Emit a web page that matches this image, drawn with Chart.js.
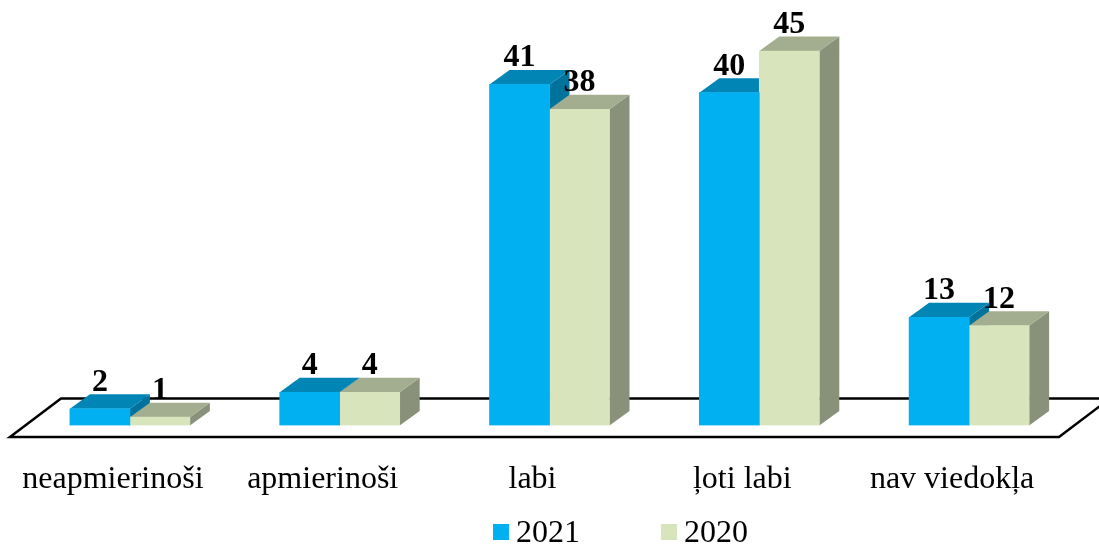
<!DOCTYPE html>
<html>
<head>
<meta charset="utf-8">
<script src="https://cdn.jsdelivr.net/npm/chart.js@4/dist/chart.umd.min.js"></script>
<style>
  html, body { margin: 0; padding: 0; background: #fff; overflow: hidden; }
  canvas { display: block; }
</style>
</head>
<body>
<canvas id="chart" width="1099" height="545"></canvas>
<script>
const categories = ['neapmierinoši', 'apmierinoši', 'labi', 'ļoti labi', 'nav viedokļa'];
const values2021 = [2, 4, 41, 40, 13];
const values2020 = [1, 4, 38, 45, 12];

const FONT = '"Liberation Serif", serif';
const DEPTH_X = 20;
const DEPTH_Y = 14.5;

// floor, top and side faces of the 3d bars, under the flat fronts chart.js draws
const bars3d = {
  id: 'bars3d',
  beforeDatasetsDraw(chart) {
    const ctx = chart.ctx;
    const base = chart.scales.y.getPixelForValue(0);

    ctx.save();
    ctx.strokeStyle = '#000';
    ctx.lineWidth = 2.5;
    ctx.lineJoin = 'miter';
    ctx.beginPath();
    ctx.moveTo(10, base + 11.5);
    ctx.lineTo(61, base - 27);
    ctx.lineTo(1110, base - 27);
    ctx.lineTo(1059, base + 11.5);
    ctx.closePath();
    ctx.stroke();

    chart.data.datasets.forEach((ds, i) => {
      chart.getDatasetMeta(i).data.forEach(bar => {
        const left = bar.x - bar.width / 2;
        const right = bar.x + bar.width / 2;
        ctx.fillStyle = ds.sideColor;
        ctx.beginPath();
        ctx.moveTo(right, bar.y);
        ctx.lineTo(right + DEPTH_X, bar.y - DEPTH_Y);
        ctx.lineTo(right + DEPTH_X, base - DEPTH_Y);
        ctx.lineTo(right, base);
        ctx.closePath();
        ctx.fill();
        ctx.fillStyle = ds.topColor;
        ctx.beginPath();
        ctx.moveTo(left, bar.y);
        ctx.lineTo(left + DEPTH_X, bar.y - DEPTH_Y);
        ctx.lineTo(right + DEPTH_X, bar.y - DEPTH_Y);
        ctx.lineTo(right, bar.y);
        ctx.closePath();
        ctx.fill();
      });
    });
    ctx.restore();
  },
  afterDatasetsDraw(chart) {
    const ctx = chart.ctx;
    ctx.save();

    // value labels
    ctx.fillStyle = '#000';
    ctx.font = 'bold 32px ' + FONT;
    ctx.textAlign = 'center';
    ctx.textBaseline = 'alphabetic';
    chart.data.datasets.forEach((ds, i) => {
      chart.getDatasetMeta(i).data.forEach((bar, j) => {
        ctx.fillText(ds.data[j], bar.x, bar.y - 18);
      });
    });

    // legend
    const legendX = [493, 661];
    ctx.font = '32px ' + FONT;
    ctx.textAlign = 'left';
    chart.data.datasets.forEach((ds, i) => {
      ctx.fillStyle = ds.backgroundColor;
      ctx.fillRect(legendX[i], 524, 16, 16);
      ctx.fillStyle = '#000';
      ctx.fillText(ds.label, legendX[i] + 23, 542);
    });
    ctx.restore();
  }
};

new Chart(document.getElementById('chart'), {
  plugins: [bars3d],
  type: 'bar',
  data: {
    labels: categories,
    datasets: [
      {
        label: '2021',
        data: values2021,
        backgroundColor: '#00B0F0',
        topColor: '#0085B5',
        sideColor: '#00739D',
        barThickness: 60
      },
      {
        label: '2020',
        data: values2020,
        backgroundColor: '#D7E4BC',
        topColor: '#A3AD8F',
        sideColor: '#8A917A',
        barThickness: 60
      }
    ]
  },
  options: {
    responsive: false,
    animation: false,
    layout: {
      padding: { left: 25, right: 25, top: 9.5, bottom: 0 }
    },
    plugins: {
      legend: { display: false },
      tooltip: { enabled: false }
    },
    scales: {
      x: {
        border: { display: false },
        grid: { display: false },
        afterFit(axis) { axis.height = 119.5; },
        ticks: {
          color: '#000',
          font: { family: FONT, size: 32 },
          padding: 27,
          labelOffset: -17,
          maxRotation: 0,
          autoSkip: false
        }
      },
      y: {
        display: false,
        min: 0,
        max: 50
      }
    }
  }
});
</script>
</body>
</html>
